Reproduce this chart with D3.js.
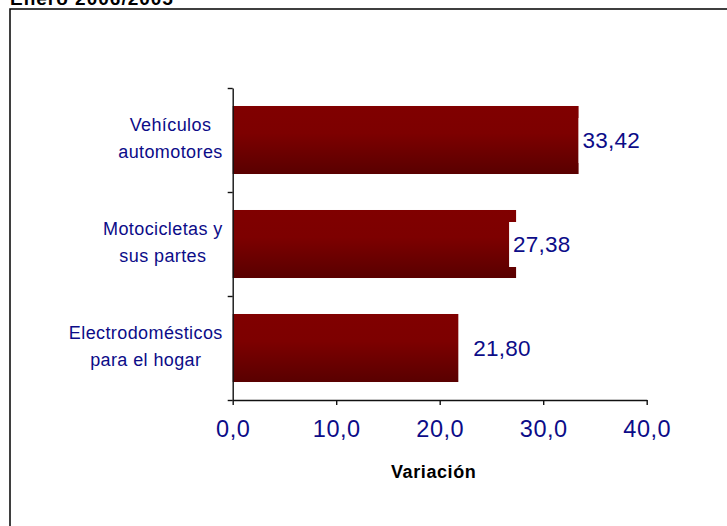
<!DOCTYPE html>
<html>
<head>
<meta charset="utf-8">
<script src="https://cdn.jsdelivr.net/npm/d3@7/dist/d3.min.js"></script>
<style>
	html, body { margin: 0; padding: 0; background: #fff; }
	svg { display: block; }
	text { font-family: "Liberation Sans", Arial, sans-serif; }
</style>
</head>
<body>
<svg id="chart" width="727" height="526"></svg>
<script>
	// data
	var titleText = 'Enero 2006/2005';
	var categories = [
		['Vehículos', 'automotores'],
		['Motocicletas y', 'sus partes'],
		['Electrodomésticos', 'para el hogar']
	];
	var values = [33.42, 27.38, 21.80];
	var xTicks = [0, 10, 20, 30, 40];
	var axisTitle = 'Variación';

	var svg = d3.select('svg#chart'),
		margin = {top: 88, left: 232.7},
		width = 414,
		height = 312;

	var navy = '#0c0c88';

	// outer frame, only top and left edges visible
	svg.append('rect')
		.attr('x', 10).attr('y', 9)
		.attr('width', 900).attr('height', 700)
		.attr('fill', 'none')
		.attr('stroke', '#000')
		.attr('stroke-width', 1.5);

	svg.append('text')
		.attr('x', 10).attr('y', 5)
		.attr('font-size', 19)
		.attr('font-weight', 'bold')
		.attr('letter-spacing', 1)
		.attr('fill', '#000')
		.text(titleText);

	var defs = svg.append('defs');
	var grad = defs.append('linearGradient')
		.attr('id', 'barGrad')
		.attr('x1', 0).attr('y1', 0).attr('x2', 0).attr('y2', 1);
	grad.append('stop').attr('offset', '0%').attr('stop-color', '#800000');
	grad.append('stop').attr('offset', '40%').attr('stop-color', '#7d0000');
	grad.append('stop').attr('offset', '100%').attr('stop-color', '#590000');

	var g = svg.append('g')
		.attr('transform', 'translate(' + margin.left + ',' + margin.top + ')');

	var x = d3.scaleLinear().domain([0, 40]).range([0, width]);

	var y = d3.scaleBand()
		.domain(d3.range(values.length))
		.range([0, height])
		.paddingInner(0.346)
		.paddingOuter(0.173);

	// boundaries between categories, for the tick marks
	var yEdge = d3.scaleLinear().domain([0, values.length]).range([0, height]);

	g.selectAll('rect.bar')
		.data(values)
		.enter().append('rect')
		.attr('class', 'bar')
		.attr('x', 0)
		.attr('y', function (d, i) { return y(i); })
		.attr('width', function (d) { return x(d); })
		.attr('height', y.bandwidth())
		.attr('fill', 'url(#barGrad)');

	// value labels sit in white boxes, shifted as in the original
	var labelShift = [4, -3, 15];
	var labels = g.selectAll('g.label')
		.data(values)
		.enter().append('g')
		.attr('class', 'label')
		.attr('transform', function (d, i) {
			return 'translate(' + (x(d) + labelShift[i]) + ',' + (y(i) + y.bandwidth() / 2) + ')';
		});
	labels.append('text')
		.attr('y', 8)
		.attr('font-size', 22.5)
		.attr('letter-spacing', 0.2)
		.attr('fill', navy)
		.text(function (d) { return d3.format('.2f')(d).replace('.', ','); });
	labels.insert('rect', 'text')
		.attr('x', -4)
		.attr('y', -22)
		.attr('width', function () { return this.parentNode.querySelector('text').getComputedTextLength() + 8; })
		.attr('height', 45)
		.attr('fill', '#fff');
	labels.filter(function (d, i) { return labelShift[i] > 10; }).select('rect').remove();

	// y axis with ticks on category edges
	var yAxis = g.append('g')
		.call(d3.axisLeft(yEdge).tickValues(d3.range(values.length + 1)).tickFormat('').tickSize(5).tickSizeOuter(0));
	yAxis.selectAll('line, path').attr('stroke', '#111').attr('stroke-width', 1.4);

	var xAxis = g.append('g')
		.attr('transform', 'translate(0,' + height + ')')
		.call(d3.axisBottom(x).tickValues(xTicks).tickSize(5).tickSizeOuter(0)
			.tickFormat(function (d) { return d3.format('.1f')(d).replace('.', ','); }));
	xAxis.selectAll('line, path').attr('stroke', '#111').attr('stroke-width', 1.4);
	xAxis.selectAll('text')
		.attr('y', 37)
		.attr('dy', 0)
		.attr('font-size', 23.5)
		.attr('letter-spacing', 0.5)
		.attr('font-family', '"Liberation Sans", Arial, sans-serif')
		.attr('fill', navy);

	// category labels, two lines, centred in a block ending at the axis
	var cat = g.selectAll('text.cat')
		.data(categories)
		.enter().append('text')
		.attr('class', 'cat')
		.attr('font-size', 18)
		.attr('letter-spacing', 0.4)
		.attr('fill', navy)
		.attr('text-anchor', 'middle');
	cat.each(function (lines, i) {
		var t = d3.select(this);
		var cy = y(i) + y.bandwidth() / 2;
		lines.forEach(function (line, j) {
			t.append('tspan').attr('y', cy - 9 + j * 26.5).text(line);
		});
		var widest = d3.max(t.selectAll('tspan').nodes(), function (n) { return n.getComputedTextLength(); });
		t.selectAll('tspan').attr('x', -10 - widest / 2);
	});

	svg.append('text')
		.attr('x', margin.left + width / 2 - 6)
		.attr('y', 478)
		.attr('text-anchor', 'middle')
		.attr('font-size', 18)
		.attr('font-weight', 'bold')
		.attr('letter-spacing', 0.6)
		.attr('fill', '#000')
		.text(axisTitle);
</script>
</body>
</html>
